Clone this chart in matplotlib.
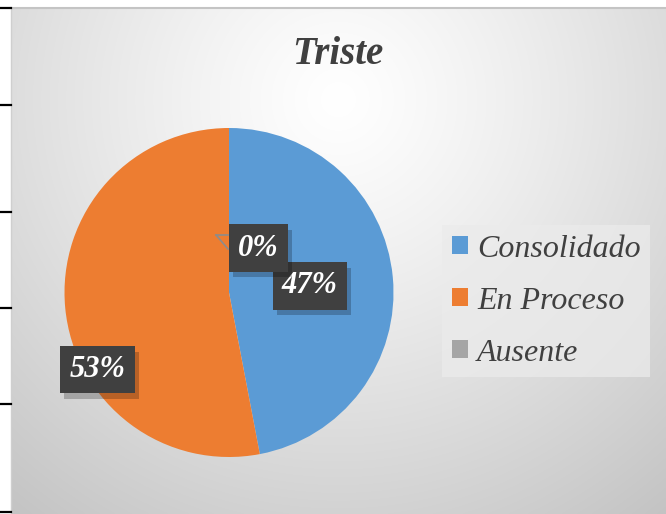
import numpy as np
import matplotlib
matplotlib.use("Agg")
import matplotlib.pyplot as plt
from matplotlib.patches import Rectangle
from matplotlib.lines import Line2D
import matplotlib.patheffects as pe

# ---- data ----
categories = ["Consolidado", "En Proceso", "Ausente"]
values = [47, 53, 0]
colors = ["#5B9BD5", "#ED7D31", "#A5A5A5"]
title = "Triste"
# label positions (pie data coords), layout only
label_pos = [(0.49, 0.04), (-0.80, -0.47), (0.18, 0.27)]

W, H = 666, 514
fig = plt.figure(figsize=(W / 100, H / 100), dpi=100)
fig.patch.set_facecolor("white")

def fx(px):
    return px / W

def fy(py):
    return 1 - py / H

# ---- background gradient (chart area) ----
x0, y0 = 11, 8
bg = fig.add_axes([fx(x0), 0, fx(W - x0), (H - y0) / H])
bg.set_axis_off()
gx, gy = np.meshgrid(np.linspace(0, 1, 300), np.linspace(0, 1, 300))
aw, ah = W - x0, H - y0
cx, cy = 0.50, 0.18
d = np.sqrt(((gx - cx) * aw) ** 2 + ((gy - cy) * ah) ** 2) / 540.0
d = np.clip(d, 0, 1)
val = 1.0 - 0.24 * d ** 1.2
img = np.dstack([val, val, val])
bg.imshow(img, extent=[0, 1, 0, 1], origin="upper", aspect="auto", interpolation="bilinear")
bg.set_xlim(0, 1)
bg.set_ylim(0, 1)
fig.add_artist(Line2D([fx(x0), 1], [fy(y0), fy(y0)], color="#c4c4c4", lw=1.5, transform=fig.transFigure))
fig.add_artist(Line2D([fx(x0), fx(x0)], [0, fy(y0)], color="#cfcfcf", lw=1.0, transform=fig.transFigure))

# left tick marks (outer page lines)
for ty in [8, 105, 212, 308, 404, 512]:
    fig.add_artist(Line2D([0, fx(11)], [fy(ty), fy(ty)], color="black", lw=1.6, transform=fig.transFigure))

# ---- pie ----
pcx, pcy, r = 229, 292.5, 164.5
ax = fig.add_axes([fx(pcx - r), fy(pcy + r), 2 * r / W, 2 * r / H])
ax.set_axis_off()
ax.pie(values, colors=colors, startangle=90, counterclock=False, radius=1,
       wedgeprops=dict(linewidth=0))
ax.set_xlim(-1, 1)
ax.set_ylim(-1, 1)
ax.set_aspect("equal")

# leader line for 0%
ax.plot([(216 - pcx) / r, (228 - pcx) / r], [(pcy - 235) / r, (pcy - 235) / r], color="#8c8c8c", lw=1.2)
ax.plot([(216 - pcx) / r, (228 - pcx) / r], [(pcy - 235) / r, (pcy - 249) / r], color="#8c8c8c", lw=1.2)

total = sum(values)
for v, (lx, ly) in zip(values, label_pos):
    s = f"{round(100 * v / total)}%"
    t = ax.text(lx, ly, s, ha="center", va="center", fontsize=22,
                family="Liberation Serif", weight="bold", style="italic", color="white",
                bbox=dict(boxstyle="square,pad=0.3", fc="#404040", ec="none"), zorder=5)
    t.get_bbox_patch().set_path_effects([
        pe.SimplePatchShadow(offset=(3, -4), shadow_rgbFace="black", alpha=0.22),
        pe.Normal()])

# ---- title ----
fig.text(fx(338), fy(54), title, ha="center", va="center", fontsize=28,
         family="Liberation Serif", weight="bold", style="italic", color="#404040")

# ---- legend ----
handles = [Rectangle((0, 0), 1, 1, fc=c, ec="none") for c in colors]
leg = fig.legend(handles, categories, loc="center left",
                 bbox_to_anchor=(fx(442), fy(301)),
                 prop=dict(family="Liberation Serif", style="italic", size=23),
                 frameon=True, fancybox=False, handlelength=0.5, handleheight=0.5,
                 handletextpad=0.3, labelspacing=0.72, borderpad=0.3, borderaxespad=0)
for t in leg.get_texts():
    t.set_color("#404040")
fr = leg.get_frame()
fr.set_facecolor("#ebebeb")
fr.set_edgecolor("none")
fr.set_alpha(0.75)

fig.savefig("out.png", dpi=100)
